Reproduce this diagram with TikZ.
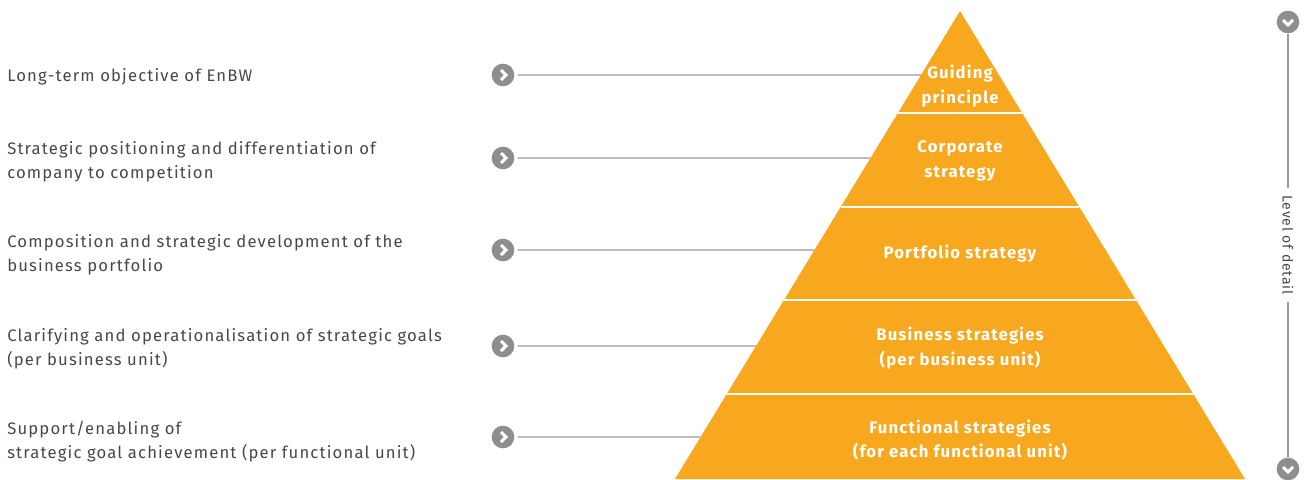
\documentclass[tikz,border=0pt]{standalone}
\usepackage{fontspec}
\setmainfont{Fira Sans}
\usetikzlibrary{calc}

\definecolor{pyrorange}{HTML}{F7A81E}
\definecolor{bulletgray}{HTML}{8E8E8E}
\definecolor{linegray}{HTML}{9A9A9A}
\definecolor{textgray}{HTML}{484848}

\tikzset{
  goaltext/.style={anchor=west, align=left, text=textgray, font=\fontsize{12.5}{18}\selectfont\addfontfeatures{LetterSpace=7}, inner sep=0pt},
  layertext/.style={align=center, text=white, font=\fontsize{12.5}{18.5}\selectfont\bfseries\addfontfeatures{LetterSpace=7}, inner sep=0pt},
  bullet/.style={circle, fill=bulletgray, minimum size=17pt, inner sep=0pt},
  leader/.style={draw=linegray, line width=0.9pt},
  layerline/.style={draw=white, line width=1.2pt}
}

\begin{document}
\begin{tikzpicture}[x=0.75pt, y=-0.75pt]
  \useasboundingbox (0,0) rectangle (1304,479);

  % the pyramid
  \coordinate (apex) at (960,11);
  \coordinate (bl) at (675,479);
  \coordinate (br) at (1245,479);
  \fill[pyrorange] (apex) -- (bl) -- (br) -- cycle;
  \foreach \t in {0.2179,0.4188,0.6175,0.8184}
    \draw[layerline] ($(apex)!\t!(bl)$) -- ($(apex)!\t!(br)$);

  % layer labels
  \node[layertext] (guiding) at (960,86) {Guiding\\principle};
  \node[layertext] (corporate) at (960,161) {Corporate\\strategy};
  \node[layertext] (portfolio) at (960,254) {Portfolio strategy};
  \node[layertext] (business) at (960,348) {Business strategies\\(per business unit)};
  \node[layertext] (functional) at (960,440) {Functional strategies\\(for each functional unit)};

  % left texts
  \node[goaltext] (g1) at (7,77) {Long-term objective of EnBW};
  \node[goaltext] (g2) at (7,162) {Strategic positioning and differentiation of\\company to competition};
  \node[goaltext] (g3) at (7,255) {Composition and strategic development of the\\business portfolio};
  \node[goaltext] (g4) at (7,349) {Clarifying and operationalisation of strategic goals\\(per business unit)};
  \node[goaltext] (g5) at (7,442) {Support/enabling of\\strategic goal achievement (per functional unit)};

  % bullets and leader lines
  \foreach \n/\y/\t in {1/75/0.1368, 2/158/0.3141, 3/250/0.5107, 4/346/0.7158, 5/437/0.9103} {
    \node[bullet] (b\n) at (503,\y) {};
    \draw[white, line width=2.2pt] ($(b\n.center)+(-2,-5)$) -- ++(5,5) -- ++(-5,5);
    \coordinate (e\n) at ($(apex)!\t!(bl)$);
    \draw[leader] (b\n.east) ++(3,0) -- (e\n);
  }

  % level of detail axis
  \node[bullet] (top) at (1288,22) {};
  \node[bullet] (bottom) at (1288,469) {};
  \foreach \b in {top,bottom}
    \draw[white, line width=2.2pt] ($(\b.center)+(-5,-2)$) -- ++(5,5) -- ++(5,-5);
  \draw[leader] (top.south) -- (bottom.north);
  \node[fill=white, rotate=-90, text=textgray, font=\fontsize{10.5}{12}\selectfont\addfontfeatures{LetterSpace=6}, inner xsep=5pt, inner ysep=1pt] (detail) at (1288,245) {Level of detail};
\end{tikzpicture}
\end{document}
